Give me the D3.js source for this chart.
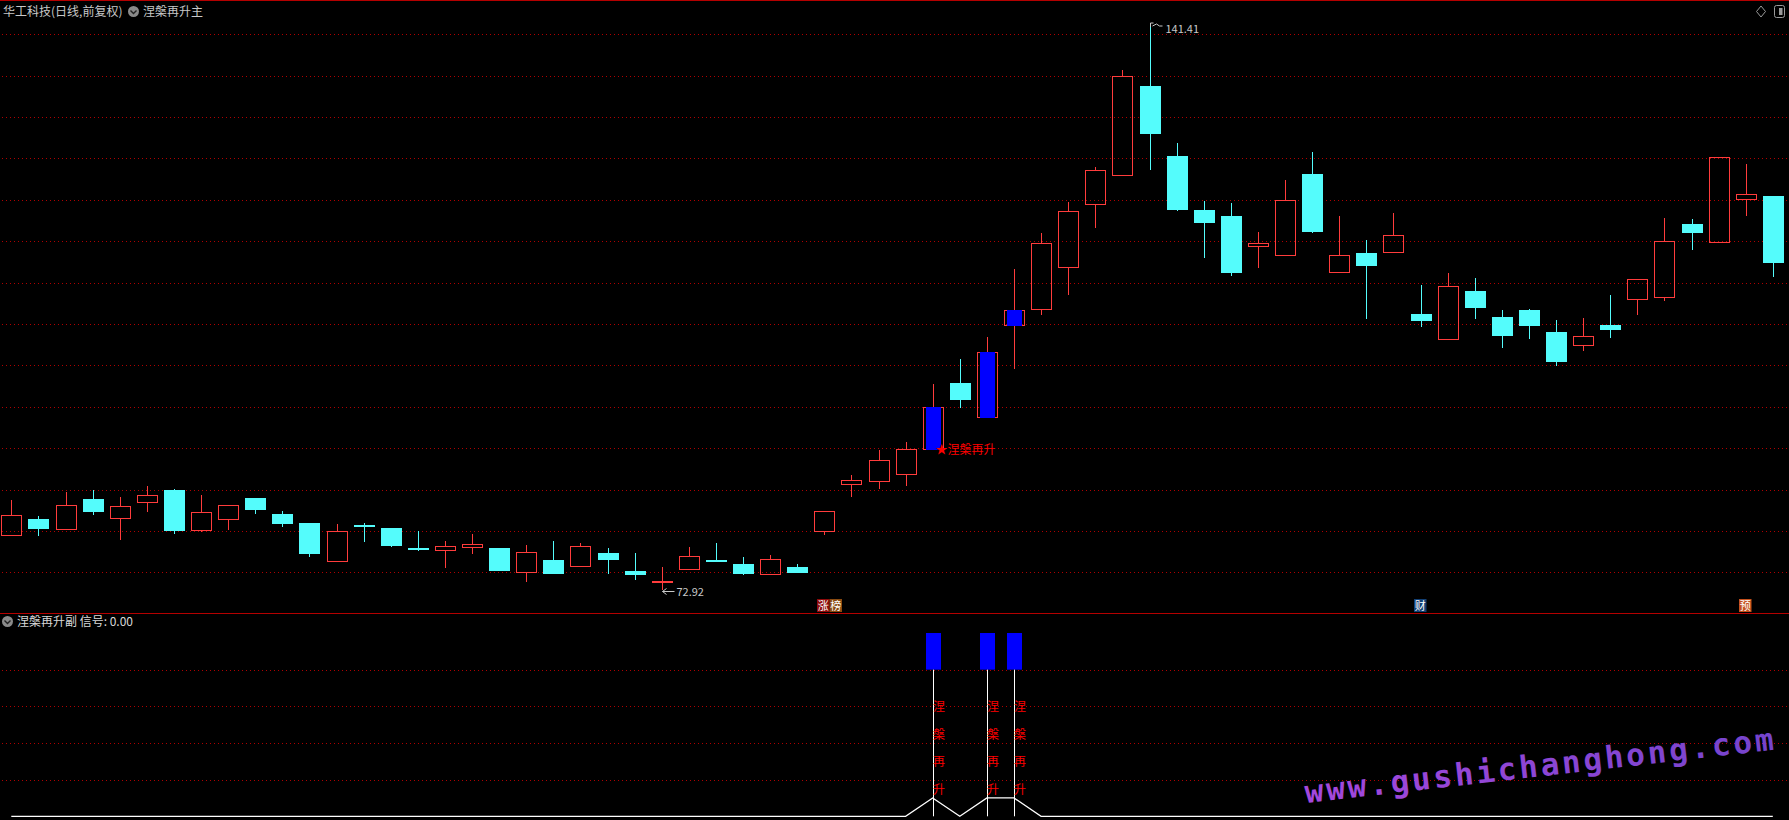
<!DOCTYPE html>
<head>
    <meta charset="utf-8">
    <style type="text/css">
    body { margin: 0; background: #000; overflow: hidden; }
    text { font-family: "Noto Sans CJK SC", "DejaVu Sans", sans-serif; }
    </style>
</head>
<body>
    <div id="my_dataviz"></div>

    <script src="https://d3js.org/d3.v7.min.js"></script>
    <script type="text/javascript">

    // daily candles, oldest first
    var open = [79.47, 81.44, 80.19, 83.86, 81.52, 83.46, 84.94, 80.07, 81.40, 83.98,
      82.04, 80.96, 76.33, 80.71, 80.35, 77.93, 77.73, 78.02, 77.93, 75.00,
      76.49, 75.72, 77.33, 75.16, 73.79, 75.43, 76.45, 76.00, 74.83, 75.64,
      80.03, 85.61, 86.07, 86.84, 89.86, 97.87, 93.80, 104.88, 106.77, 111.92,
      119.46, 122.96, 133.75, 125.30, 118.77, 118.05, 114.39, 113.30, 123.12, 111.25,
      113.54, 113.66, 106.21, 103.15, 108.99, 105.84, 106.69, 104.03, 102.43, 104.88,
      107.98, 108.22, 117.08, 114.87, 120.06, 120.46];
    var high = [83.73, 81.80, 84.70, 84.94, 84.10, 85.43, 85.06, 84.34, 83.09, 83.98,
      82.37, 80.96, 80.83, 80.96, 80.35, 79.99, 78.78, 79.63, 77.93, 78.30,
      78.78, 78.54, 77.93, 77.33, 75.64, 78.06, 78.54, 76.85, 77.09, 76.00,
      82.41, 86.75, 89.78, 90.74, 97.75, 100.77, 103.43, 111.64, 115.99, 119.74,
      123.97, 135.69, 141.41, 126.83, 119.86, 119.62, 116.11, 122.40, 125.78, 118.05,
      115.15, 118.41, 109.71, 111.16, 110.56, 106.69, 106.81, 105.48, 105.72, 108.50,
      110.40, 117.81, 117.68, 125.14, 124.33, 120.46];
    var low = [79.47, 79.42, 80.19, 81.96, 78.94, 82.32, 79.66, 79.83, 80.15, 82.08,
      80.51, 76.88, 76.33, 78.70, 78.09, 77.61, 75.55, 77.25, 75.19, 73.86,
      74.83, 75.72, 74.83, 74.10, 72.92, 75.43, 76.40, 74.67, 74.83, 74.95,
      79.54, 84.13, 85.03, 85.43, 89.86, 94.89, 93.80, 99.60, 106.09, 108.54,
      116.63, 122.96, 123.64, 118.69, 113.01, 110.83, 111.80, 113.30, 116.03, 111.25,
      105.64, 113.66, 104.67, 103.15, 105.64, 102.14, 103.22, 99.96, 101.77, 103.34,
      106.12, 107.81, 113.98, 114.87, 118.08, 110.71];
    var close = [81.92, 80.27, 83.13, 82.32, 82.97, 84.34, 80.03, 82.25, 83.09, 82.56,
      80.87, 77.25, 79.95, 80.51, 78.21, 77.73, 78.18, 78.42, 75.19, 77.45,
      74.83, 78.18, 76.52, 74.71, 73.98, 76.97, 76.40, 74.83, 76.61, 74.95,
      82.41, 86.21, 88.53, 89.86, 94.97, 95.85, 101.62, 106.69, 114.75, 118.65,
      123.57, 134.93, 127.99, 118.81, 117.24, 111.20, 114.75, 119.94, 116.15, 113.30,
      112.04, 115.72, 105.40, 109.55, 106.97, 103.59, 104.79, 100.44, 103.51, 104.31,
      110.40, 115.03, 116.03, 125.14, 120.67, 112.40];

    // signal of the lower panel (1 = 涅槃再升)
    var signal = [0,0,0,0,0,0,0,0,0,0, 0,0,0,0,0,0,0,0,0,0,
      0,0,0,0,0,0,0,0,0,0, 0,0,0,0,1,0,1,1,0,0,
      0,0,0,0,0,0,0,0,0,0, 0,0,0,0,0,0,0,0,0,0,
      0,0,0,0,0,0];

    var mainGrid = [75, 80, 85, 90, 95, 100, 105, 110, 115, 120, 125, 130, 135, 140];
    var subGrid = [2, 4, 6, 8];

    // event badges under the candles
    var badgeIndex = [30, 30, 52, 64];
    var badgeText = ["涨", "榜", "财", "预"];
    var badgeSlot = [0, 1, 0, 0];
    var badgeColor = ["#8c0a0a", "#8a4a10", "#123f73", "#c4501c"];

    var W = 1789, H = 820;
    var red = "#ff3c3c", cyan = "#54fcfc", blue = "#0000ff";

    var svg = d3.select("#my_dataviz")
      .append("svg")
        .attr("width", W)
        .attr("height", H)
        .style("background", "#000")
        .style("display", "block");

    var n = open.length;
    var x = d3.scaleLinear().domain([0, n - 1]).range([11.3, 1772.8]);
    var y = d3.scaleLinear().domain([75, 140]).range([572.3, 34.3]);
    var ys = d3.scaleLinear().domain([0, 10]).range([816.3, 633]);
    var px = function(i) { return Math.round(x(i)) + 0.5; };

    // frame lines
    svg.append("line").attr("x1", 0).attr("x2", W).attr("y1", 0.5).attr("y2", 0.5)
      .attr("stroke", "#b40000");
    svg.append("line").attr("x1", 0).attr("x2", W).attr("y1", 613.5).attr("y2", 613.5)
      .attr("stroke", "#b40000");

    // dotted grid
    svg.append("g").selectAll("line")
      .data(mainGrid).enter().append("line")
        .attr("x1", 2).attr("x2", W)
        .attr("y1", function(d) { return Math.round(y(d)) + 0.5; })
        .attr("y2", function(d) { return Math.round(y(d)) + 0.5; })
        .attr("stroke", "#b00000")
        .attr("stroke-dasharray", "1,3");
    svg.append("g").selectAll("line")
      .data(subGrid).enter().append("line")
        .attr("x1", 2).attr("x2", W)
        .attr("y1", function(d) { return Math.round(ys(d)) + 0.5; })
        .attr("y2", function(d) { return Math.round(ys(d)) + 0.5; })
        .attr("stroke", "#b00000")
        .attr("stroke-dasharray", "1,3");

    // candles
    var idx = d3.range(n);
    var candles = svg.append("g").attr("shape-rendering", "crispEdges");
    idx.forEach(function(i) {
      var up = close[i] >= open[i];
      var top = Math.round(y(Math.max(open[i], close[i])));
      var bot = Math.round(y(Math.min(open[i], close[i])));
      if (bot - top < 1) bot = top + 1;
      var cx = px(i);
      var col = up ? red : cyan;
      // wicks
      candles.append("line").attr("x1", cx).attr("x2", cx)
        .attr("y1", Math.round(y(high[i]))).attr("y2", top)
        .attr("stroke", col);
      candles.append("line").attr("x1", cx).attr("x2", cx)
        .attr("y1", bot).attr("y2", Math.round(y(low[i])))
        .attr("stroke", col);
      if (up) {
        candles.append("rect")
          .attr("x", cx - 10).attr("y", top + 0.5)
          .attr("width", 20).attr("height", Math.max(bot - top, 1))
          .attr("fill", "none").attr("stroke", red);
        if (signal[i]) {
          candles.append("rect")
            .attr("x", cx - 7.5).attr("y", top)
            .attr("width", 15).attr("height", bot - top + 1)
            .attr("fill", blue);
        }
      } else {
        candles.append("rect")
          .attr("x", cx - 10.5).attr("y", top)
          .attr("width", 21).attr("height", Math.max(bot - top, 2))
          .attr("fill", cyan);
      }
    });

    // high / low marks
    var iHigh = d3.maxIndex(high), iLow = d3.minIndex(low);
    var hx = px(iHigh), hy = Math.round(y(high[iHigh]));
    svg.append("path")
      .attr("d", "M" + hx + "," + (hy + 4) + "V" + hy + "H" + (hx + 3) +
        "M" + (hx + 2) + "," + (hy + 3) + "l4,-2 l3,2 l3,0")
      .attr("stroke", "#c8c8c8").attr("fill", "none");
    svg.append("text")
      .attr("x", hx + 15).attr("y", hy + 10)
      .attr("fill", "#c8c8c8").style("font-size", "11px")
      .text(high[iHigh].toFixed(2));

    var lx = px(iLow), ly = Math.round(y(low[iLow]));
    svg.append("path")
      .attr("d", "M" + lx + "," + (ly + 1.5) + "H" + (lx + 12) +
        "M" + (lx + 4) + "," + (ly - 1.5) + "L" + lx + "," + (ly + 1.5) + "L" + (lx + 4) + "," + (ly + 4.5))
      .attr("stroke", "#c8c8c8").attr("fill", "none");
    svg.append("text")
      .attr("x", lx + 14).attr("y", ly + 6)
      .attr("fill", "#c8c8c8").style("font-size", "11px")
      .text(low[iLow].toFixed(2));

    // first signal label on the main chart
    var iFirst = signal.indexOf(1);
    svg.append("text")
      .attr("x", px(iFirst) + 2).attr("y", Math.round(y(low[iFirst])) + 5)
      .attr("fill", "#ff0000").style("font-size", "12px")
      .text("★涅槃再升");

    // badges
    var badges = svg.append("g");
    badgeText.forEach(function(t, k) {
      var bx = Math.round(x(badgeIndex[k])) - 7 + badgeSlot[k] * 12.5;
      badges.append("rect")
        .attr("x", bx).attr("y", 599).attr("width", 12.5).attr("height", 13)
        .attr("fill", badgeColor[k]);
      badges.append("text")
        .attr("x", bx + 6.25).attr("y", 610)
        .attr("text-anchor", "middle")
        .attr("fill", "#fff").style("font-size", "11px")
        .text(t);
    });

    // lower panel: sticks, drop lines, vertical text
    var sub = svg.append("g");
    idx.filter(function(i) { return signal[i]; }).forEach(function(i) {
      var cx = px(i);
      sub.append("rect")
        .attr("x", cx - 7.5).attr("y", ys(10))
        .attr("width", 15).attr("height", ys(8) - ys(10))
        .attr("fill", blue);
      sub.append("line")
        .attr("x1", cx).attr("x2", cx)
        .attr("y1", ys(8)).attr("y2", ys(0))
        .attr("stroke", "#fff");
      ["涅", "槃", "再", "升"].forEach(function(c, k) {
        sub.append("text")
          .attr("x", cx - 0.5).attr("y", ys(6 - 1.5 * k) + 5)
          .attr("fill", "#ff0000").style("font-size", "12px")
          .text(c);
      });
    });

    var line = d3.line()
      .x(function(i) { return x(i); })
      .y(function(i) { return ys(signal[i]); });
    svg.append("path")
      .datum(idx)
      .attr("d", line)
      .attr("fill", "none")
      .attr("stroke", "#fff")
      .attr("stroke-width", 1.2);

    // titles
    var icon = function(cx, cy) {
      svg.append("circle").attr("cx", cx).attr("cy", cy).attr("r", 5.5).attr("fill", "#8a8a8a");
      svg.append("path")
        .attr("d", "M" + (cx - 3) + "," + (cy - 1) + "l3,3 l3,-3")
        .attr("stroke", "#222").attr("stroke-width", 1.4).attr("fill", "none");
    };
    svg.append("text").attr("x", 3).attr("y", 16)
      .attr("fill", "#c8c8c8").style("font-size", "12px")
      .text("华工科技(日线,前复权)");
    icon(133.5, 11.5);
    svg.append("text").attr("x", 143).attr("y", 16)
      .attr("fill", "#c8c8c8").style("font-size", "12px")
      .text("涅槃再升主");

    icon(7.5, 621.5);
    svg.append("text").attr("x", 17).attr("y", 626)
      .attr("fill", "#d8d8d8").style("font-size", "12px")
      .text("涅槃再升副 信号: 0.00");

    // top right buttons
    svg.append("path")
      .attr("d", "M1761,6 l4.5,5.5 l-4.5,5.5 l-4.5,-5.5 z")
      .attr("stroke", "#9a9a9a").attr("fill", "none");
    svg.append("rect").attr("x", 1774.5).attr("y", 5.5).attr("width", 10).attr("height", 12).attr("rx", 2)
      .attr("stroke", "#9a9a9a").attr("fill", "none");
    svg.append("rect").attr("x", 1779).attr("y", 8).attr("width", 3.5).attr("height", 7)
      .attr("fill", "#9a9a9a");

    // watermark
    var grad = svg.append("defs").append("linearGradient").attr("id", "wm");
    grad.append("stop").attr("offset", "0%").attr("stop-color", "#a548dc");
    grad.append("stop").attr("offset", "100%").attr("stop-color", "#7444cc");
    svg.append("text")
      .attr("transform", "translate(1306,803) rotate(-6.5)")
      .attr("fill", "url(#wm)")
      .style("font-family", "'DejaVu Sans Mono', monospace")
      .style("font-weight", "bold")
      .style("font-size", "31px")
      .style("letter-spacing", "2.9px")
      .text("www.gushichanghong.com");

    </script>
</body>
